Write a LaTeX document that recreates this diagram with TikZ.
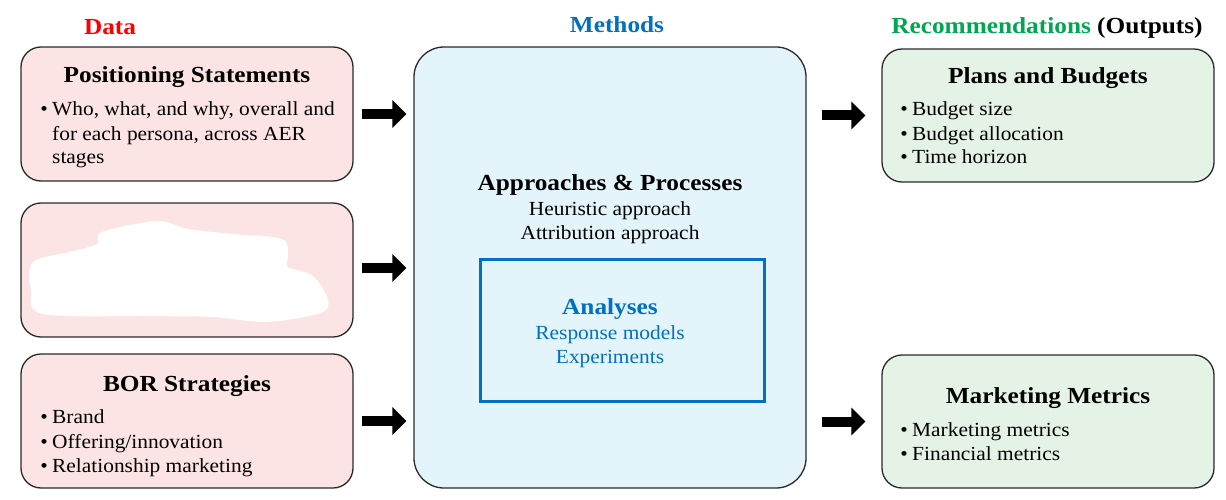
\documentclass[tikz,border=0pt]{standalone}
\usepackage{fontspec}
\setmainfont{Liberation Serif}[FakeStretch=1.07, BoldFeatures={FakeStretch=1.10}]
\usetikzlibrary{arrows.meta,calc}
\definecolor{pinkfill}{HTML}{FDE4E4}
\definecolor{bluefill}{HTML}{E4F4FB}
\definecolor{greenfill}{HTML}{E5F3E7}
\definecolor{hdrred}{HTML}{FF0000}
\definecolor{hdrblue}{HTML}{0070C0}
\definecolor{hdrgreen}{HTML}{00A650}
\definecolor{edge}{HTML}{2A2A2A}
\tikzset{
  box/.style={draw=edge, line width=1.3pt, rounded corners=20pt, inner sep=0pt},
  databox/.style={box, fill=pinkfill, minimum width=332pt, minimum height=134pt},
  outbox/.style={box, fill=greenfill, minimum width=332pt, minimum height=133pt},
  ttl/.style={anchor=base, font=\fontsize{23}{27}\selectfont\bfseries, inner sep=0pt},
  hdr/.style={anchor=base, font=\fontsize{23}{27}\selectfont\bfseries, inner sep=0pt},
  txt/.style={anchor=base west, font=\fontsize{20}{24}\selectfont, inner sep=0pt},
  ctxt/.style={anchor=base, font=\fontsize{20}{24}\selectfont, inner sep=0pt},
  bul/.style={anchor=base, font=\fontsize{20}{24}\selectfont, inner sep=0pt},
  blockarrow/.style={line width=10pt, -{Triangle[length=14pt,width=27pt]}}
}
\begin{document}
\begin{tikzpicture}[x=1pt,y=-1pt]
\useasboundingbox (0,0) rectangle (1226,500);
\fill[white] (0,0) rectangle (1226,500);

% headers
\node[hdr, text=hdrred] (hData) at (110,35) {Data};
\node[hdr, text=hdrblue] (hMeth) at (617,33) {Methods};
\node[hdr] (hRec) at (1047,34) {\textcolor{hdrgreen}{Recommendations} (Outputs)};

% data boxes
\node[databox] (d1) at (187,114) {};
\node[databox] (d2) at (187,270) {};
\node[databox] (d3) at (187,421) {};

% white blob in second box
\fill[white] plot[smooth cycle, tension=0.55] coordinates {
  (33,262) (70,252) (97,244) (102,232) (157,221) (188,229) (233,234)
  (282,239) (288,256) (288,267) (313,276) (328,300) (320,313)
  (267,322) (213,317) (150,316) (43,314) (31,290)};

% methods box
\node[box, rounded corners=30pt, fill=bluefill, minimum width=392pt, minimum height=441pt] (meth) at (610,267.5) {};
\node[draw=hdrblue, line width=3pt, minimum width=284pt, minimum height=142pt, inner sep=0pt] (ana) at (622,330) {};

% output boxes
\node[outbox] (p1) at (1048,115.5) {};
\node[outbox] (p2) at (1048,421.5) {};

% arrows
\draw[blockarrow] ([xshift=8pt]d1.east) -- ([xshift=-7pt]d1.east -| meth.west);
\draw[blockarrow] ([xshift=8pt,yshift=2pt]d2.east) -- ([xshift=-7pt,yshift=2pt]d2.east -| meth.west);
\draw[blockarrow] ([xshift=8pt]d3.east) -- ([xshift=-7pt]d3.east -| meth.west);
\draw[blockarrow] ([xshift=15pt]meth.east |- p1.west) -- ([xshift=-16pt]p1.west);
\draw[blockarrow] ([xshift=15pt]meth.east |- p2.west) -- ([xshift=-16pt]p2.west);

% box 1 text
\node[ttl] (t1) at (187,83) {Positioning Statements};
\node[bul] (b11) at (44,116) {\textbullet};
\node[txt] (l11) at (52,116) {Who, what, and why, overall and};
\node[txt] (l12) at (52,140) {for each persona, across AER};
\node[txt] (l13) at (52,164) {stages};

% box 3 text
\node[ttl] (t3) at (187,391) {BOR Strategies};
\node[bul] (b31) at (44,423) {\textbullet};
\node[txt] (l31) at (52,423) {Brand};
\node[bul] (b32) at (44,448) {\textbullet};
\node[txt] (l32) at (52,448) {Offering/innovation};
\node[bul] (b33) at (44,472) {\textbullet};
\node[txt] (l33) at (52,472) {Relationship marketing};

% methods text
\node[ttl] (tm) at (610,190) {Approaches \& Processes};
\node[ctxt] (m1) at (610,215) {Heuristic approach};
\node[ctxt] (m2) at (610,239) {Attribution approach};
\node[ttl, text=hdrblue] (ta) at (610,314) {Analyses};
\node[ctxt, text=hdrblue] (a1) at (610,339) {Response models};
\node[ctxt, text=hdrblue] (a2) at (610,363) {Experiments};

% plans text
\node[ttl] (tp) at (1048,84) {Plans and Budgets};
\node[bul] (bp1) at (904,116) {\textbullet};
\node[txt] (lp1) at (912,116) {Budget size};
\node[bul] (bp2) at (904,140) {\textbullet};
\node[txt] (lp2) at (912,140) {Budget allocation};
\node[bul] (bp3) at (904,164) {\textbullet};
\node[txt] (lp3) at (912,164) {Time horizon};

% marketing text
\node[ttl] (tk) at (1048,403) {Marketing Metrics};
\node[bul] (bk1) at (904,436) {\textbullet};
\node[txt] (lk1) at (912,436) {Marketing metrics};
\node[bul] (bk2) at (904,460) {\textbullet};
\node[txt] (lk2) at (912,460) {Financial metrics};
\end{tikzpicture}
\end{document}
